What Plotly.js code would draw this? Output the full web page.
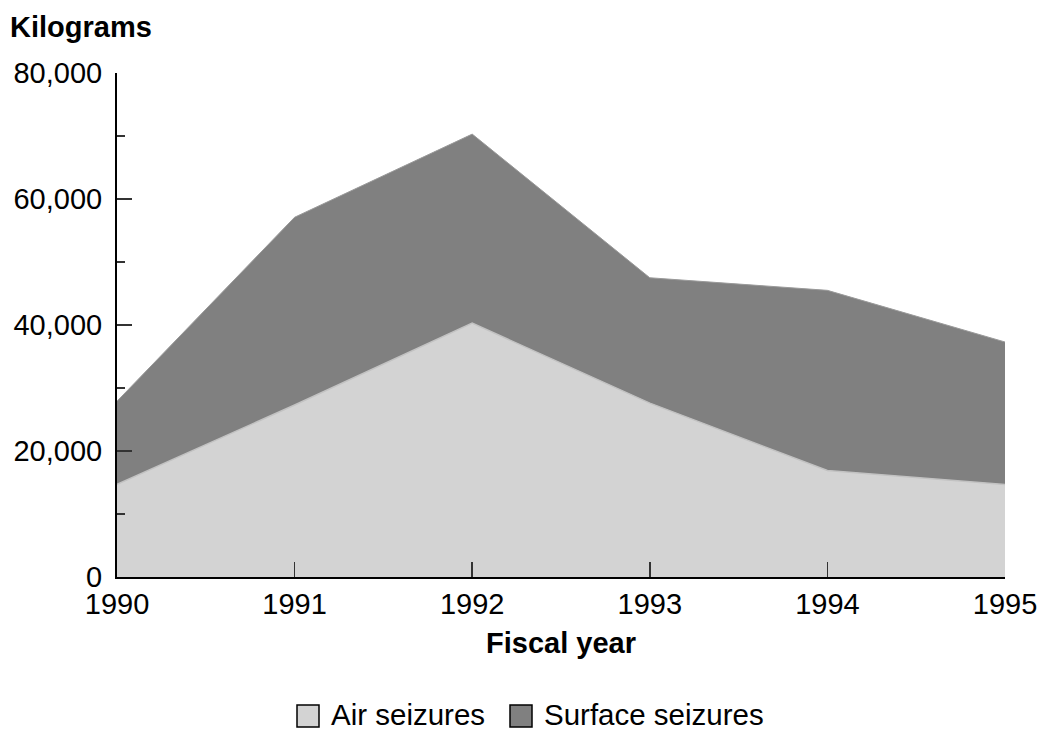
<!DOCTYPE html>
<html>
<head>
<meta charset="utf-8">
<script src="https://cdn.plot.ly/plotly-3.0.1.min.js"></script>
<style>html,body{margin:0;padding:0;background:#fff;}#chart{width:1039px;height:730px;}</style>
</head>
<body>
<div id="chart"></div>
<script>
// Data (kilograms)
const years = [1990, 1991, 1992, 1993, 1994, 1995];
const airSeizures = [14700, 27300, 40300, 27600, 16900, 14700];
const surfaceSeizures = [13200, 29800, 30000, 19900, 28600, 22600];
const yTickVals = [0, 20000, 40000, 60000, 80000];
const seriesNames = ['Air seizures', 'Surface seizures'];
const seriesColors = ['#d3d3d3', '#808080'];

const W = 1039, H = 730;
const M = {l: 117, r: 34, t: 73, b: 153};
const PW = W - M.l - M.r, PH = H - M.t - M.b;
const px2x = p => (p - M.l) / PW;
const px2y = p => (H - M.b - p) / PH;
const FONT = 'Liberation Sans, Arial, Helvetica, sans-serif';

const traces = [
  {x: years, y: airSeizures, name: seriesNames[0], type: 'scatter', mode: 'lines',
   stackgroup: 'one', fillcolor: seriesColors[0], line: {color: '#c2c2c2', width: 1.5},
   showlegend: false, hoverinfo: 'x+y'},
  {x: years, y: surfaceSeizures, name: seriesNames[1], type: 'scatter', mode: 'lines',
   stackgroup: 'one', fillcolor: seriesColors[1], line: {color: '#9a9a9a', width: 1},
   showlegend: false, hoverinfo: 'x+y'}
];

// manual legend (squares + text)
const legendItems = [
  {sq: 297, text: 329},
  {sq: 510, text: 542}
];
const shapes = legendItems.map((it, i) => ({
  type: 'rect', xref: 'paper', yref: 'paper',
  x0: px2x(it.sq), x1: px2x(it.sq + 22), y0: px2y(705), y1: px2y(727),
  fillcolor: seriesColors[i], line: {color: '#000', width: 1.5}
}));
const annotations = legendItems.map((it, i) => ({
  xref: 'paper', yref: 'paper', x: px2x(it.text), y: px2y(714),
  xanchor: 'left', yanchor: 'middle', showarrow: false,
  text: seriesNames[i], font: {family: FONT, size: 29.5, color: '#000'}
}));
annotations.push({
  xref: 'paper', yref: 'paper', x: px2x(8), y: px2y(27),
  xanchor: 'left', yanchor: 'middle', showarrow: false,
  text: '<b>Kilograms</b>', font: {family: FONT, size: 29, color: '#000'}
});

const layout = {
  width: W, height: H,
  margin: M,
  paper_bgcolor: '#fff', plot_bgcolor: '#fff',
  showlegend: false,
  font: {family: FONT, size: 29, color: '#000'},
  xaxis: {
    range: [1990, 1995], tickvals: years, ticktext: years.map(String),
    ticks: 'inside', ticklen: 15, tickwidth: 1.5, tickcolor: '#333',
    showline: true, linecolor: '#000', linewidth: 2,
    showgrid: false, zeroline: false, automargin: false,
    tickfont: {family: FONT, size: 29, color: '#000'},
    title: {text: '<b>Fiscal year</b>', font: {family: FONT, size: 29, color: '#000'}, standoff: 14}
  },
  yaxis: {
    range: [0, 80000], tickvals: yTickVals, tickformat: ',d',
    ticks: 'inside', ticklen: 15, tickwidth: 1.5, tickcolor: '#333',
    ticklabelstandoff: 7,
    minor: {dtick: 10000, ticks: 'inside', ticklen: 8, tickwidth: 1.5, tickcolor: '#333'},
    showline: true, linecolor: '#000', linewidth: 2,
    showgrid: false, zeroline: false, automargin: false,
    tickfont: {family: FONT, size: 29, color: '#000'}
  },
  shapes: shapes,
  annotations: annotations
};

Plotly.newPlot('chart', traces, layout, {displayModeBar: false, staticPlot: true});
</script>
</body>
</html>
